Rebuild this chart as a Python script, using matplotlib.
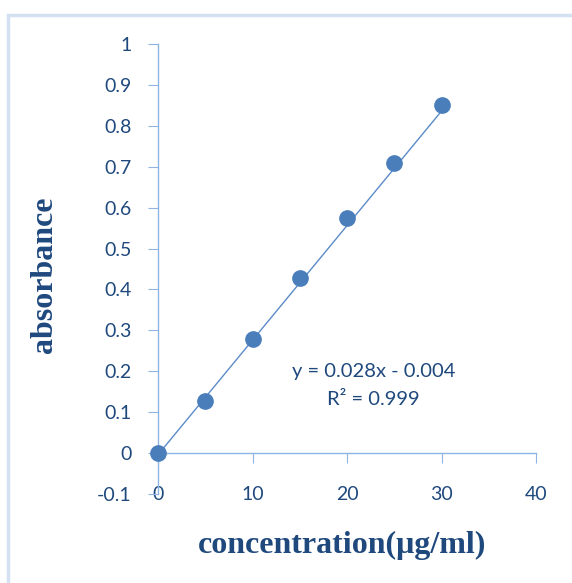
import numpy as np
import matplotlib
matplotlib.use("Agg")
import matplotlib.pyplot as plt
from matplotlib.patches import Rectangle

# calibration data
conc = [0, 5, 10, 15, 20, 25, 30]
absorb = [0.0, 0.128, 0.28, 0.428, 0.575, 0.71, 0.85]
slope, intercept = 0.028, -0.004
r2 = 0.999

x_ticks = [0, 10, 20, 30, 40]
y_ticks = [-0.1, 0, 0.1, 0.2, 0.3, 0.4, 0.5, 0.6, 0.7, 0.8, 0.9, 1]

text_col = "#1F497D"
axis_col = "#8EB4E3"
mark_col = "#4A7EBB"

fig = plt.figure(figsize=(5.72, 5.83), dpi=100)

# light chart-area border
fig.patches.append(Rectangle((7.5 / 572, -0.05), 1.2, 1 - 14.5 / 583 + 0.05,
                             transform=fig.transFigure, fill=False,
                             edgecolor="#D3E1F2", linewidth=2.5))

ax = fig.add_axes([158 / 572, 1 - 494 / 583, 378 / 572, 450 / 583])
ax.set_xlim(0, 40)
ax.set_ylim(-0.1, 1)

for s in ("top", "right"):
    ax.spines[s].set_visible(False)
ax.spines["bottom"].set_position(("data", 0))
for s in ("left", "bottom"):
    ax.spines[s].set_color(axis_col)
    ax.spines[s].set_linewidth(1.0)

ax.set_xticks(x_ticks)
ax.set_yticks(y_ticks)
ax.set_yticklabels(["-0.1", "0", "0.1", "0.2", "0.3", "0.4", "0.5",
                    "0.6", "0.7", "0.8", "0.9", "1"])
ax.tick_params(axis="y", direction="out", length=7, color=axis_col,
               labelcolor=text_col, labelsize=14, pad=12)
ax.tick_params(axis="x", direction="out", length=7, color=axis_col,
               labelcolor=text_col, labelsize=14, pad=17)
for lab in ax.get_xticklabels() + ax.get_yticklabels():
    lab.set_family("Lato")

# linear trendline
xl = np.array([conc[0], conc[-1]])
ax.plot(xl, slope * xl + intercept, color="#5B8BC9", linewidth=1.0,
        zorder=2)
ax.plot(conc, absorb, "o", color=mark_col, markersize=11, zorder=3,
        clip_on=False)

ax.text(22.8, 0.2, f"y = {slope:.3f}x - {abs(intercept):.3f}",
        ha="center", va="center", color=text_col, fontsize=14.5,
        family="Lato")
ax.text(22.8, 0.13, f"R² = {r2:.3f}", ha="center", va="center",
        color=text_col, fontsize=14.5, family="Lato")

fig.text(45 / 572, 1 - 275 / 583, "absorbance", rotation=90,
         ha="center", va="center", color=text_col, fontsize=23,
         fontweight="bold", family="Liberation Serif")
fig.text(342 / 572, 1 - 545 / 583, "concentration(μg/ml)",
         ha="center", va="center", color=text_col, fontsize=23,
         fontweight="bold", family="Liberation Serif")

fig.savefig("out.png", dpi=100)
